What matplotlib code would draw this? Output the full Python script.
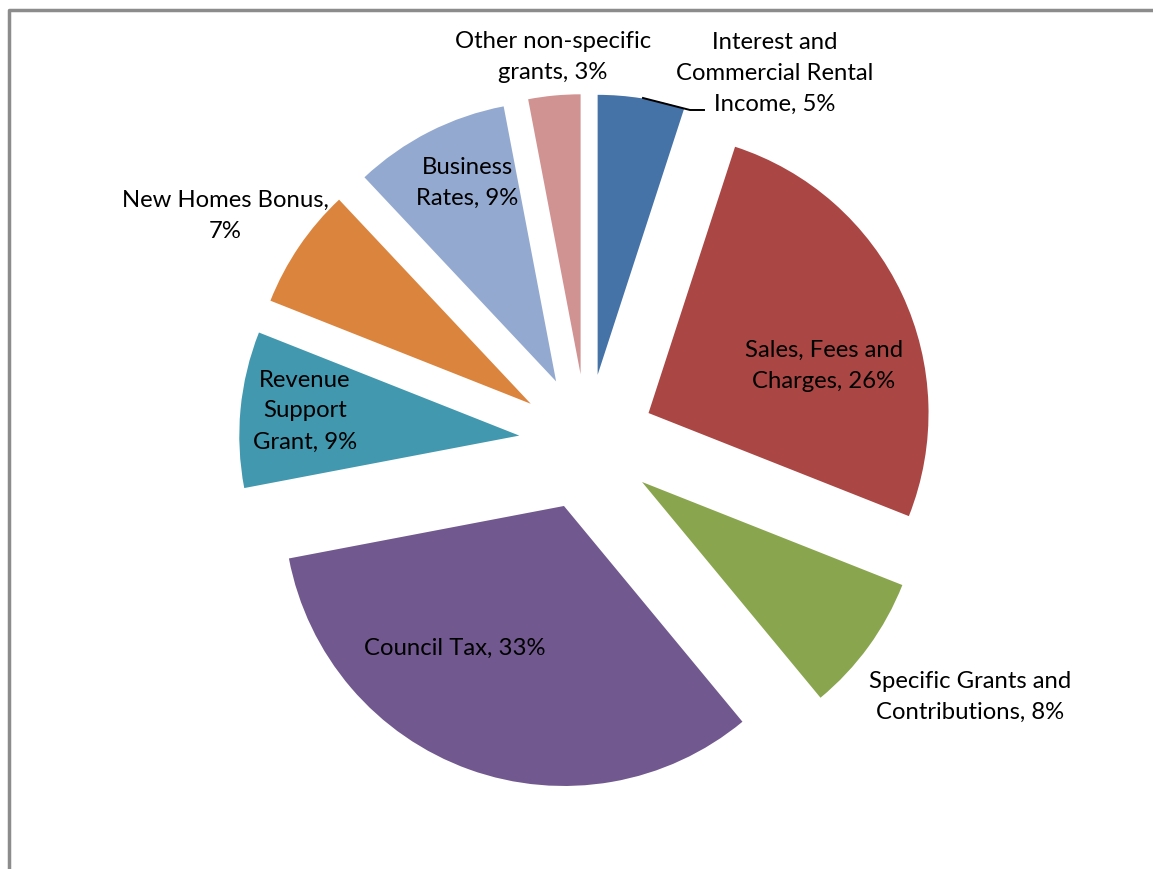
import matplotlib
matplotlib.use("Agg")
import matplotlib.pyplot as plt

categories = [
    "Interest and\nCommercial Rental\nIncome",
    "Sales, Fees and\nCharges",
    "Specific Grants and\nContributions",
    "Council Tax",
    "Revenue\nSupport\nGrant",
    "New Homes Bonus,\n",
    "Business\nRates",
    "Other non-specific\ngrants",
]
values = [5, 26, 8, 33, 9, 7, 9, 3]
colors = ["#4572A7", "#AA4643", "#89A54E", "#71588F",
          "#4198AF", "#DB843D", "#93A9CF", "#D19392"]

W, H = 1153, 870
fig = plt.figure(figsize=(W / 100, H / 100), dpi=100)
ax = fig.add_axes([0, 0, 1, 1])

cx, cy = 587, H - 443
radius = 280
expl = 68

wedges, _ = ax.pie(values, colors=colors, startangle=90, counterclock=False,
                   center=(cx, cy), radius=radius, explode=[expl] * len(values),
                   wedgeprops=dict(linewidth=0))
ax.set_xlim(0, W)
ax.set_ylim(0, H)
ax.set_aspect("auto")
ax.axis("off")

# frame
ax.plot([9, 9, W + 5], [-5, H - 11, H - 11], color="#8c8c8c", lw=2.5,
        solid_capstyle="butt", clip_on=False)

label_pos = [(775, 73), (824, 366), (970, 697), (455, 648),
             (305, 411), (225, 216), (467, 183), (553, 57)]
texts = [
    "Interest and\nCommercial Rental\nIncome, {}%",
    "Sales, Fees and\nCharges, {}%",
    "Specific Grants and\nContributions, {}%",
    "Council Tax, {}%",
    "Revenue\nSupport\nGrant, {}%",
    "New Homes Bonus,\n{}%",
    "Business\nRates, {}%",
    "Other non-specific\ngrants, {}%",
]
for (x, y), t, v in zip(label_pos, texts, values):
    ax.text(x, H - y, t.format(v), ha="center", va="center",
            multialignment="center", fontsize=17.2, family="Lato",
            color="black", linespacing=1.58)

# leader line for Interest label
ax.plot([643, 690, 704], [H - 99, H - 111, H - 111], color="black", lw=1.4)

fig.savefig("out.png", dpi=100)
